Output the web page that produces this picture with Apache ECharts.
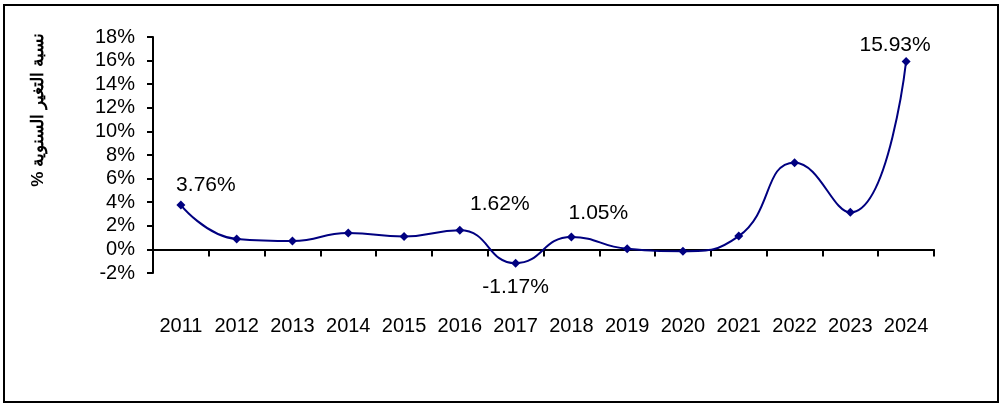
<!DOCTYPE html>
<html>
<head>
<meta charset="utf-8">
<script src="https://cdn.jsdelivr.net/npm/echarts@6/dist/echarts.min.js"></script>
<style>
  html, body { margin: 0; padding: 0; background: #fff; }
  #chart { width: 1001px; height: 404px; }
</style>
</head>
<body>
<div id="chart"></div>
<script>
// years on the x axis
var years = ['2011', '2012', '2013', '2014', '2015', '2016', '2017', '2018', '2019', '2020', '2021', '2022', '2023', '2024'];
// annual change rate in %
var changeRate = [3.76, 0.88, 0.71, 1.40, 1.10, 1.62, -1.17, 1.05, 0.05, -0.15, 1.13, 7.35, 3.14, 15.93];
// years that carry a value label
var labelledYears = ['2011', '2016', '2017', '2018', '2024'];
var yTicks = { min: -2, max: 18, step: 2 };
var yName = 'نسبة التغير السنوية %';

// label offsets from the point (px)
var labelOffsets = {
    '2011': [25, -20],
    '2016': [40, -26],
    '2017': [0, 24],
    '2018': [27, -24],
    '2024': [-11, -16]
};

var font = 'Liberation Sans, Arial, sans-serif';
var seriesData = changeRate.map(function (v, i) {
    var y = years[i];
    if (labelledYears.indexOf(y) < 0) return v;
    return {
        value: v,
        label: {
            show: true,
            position: 'inside',
            offset: labelOffsets[y],
            formatter: v.toFixed(2) + '%',
            color: '#000',
            fontSize: 21,
            fontFamily: font
        }
    };
});

var myChart = echarts.init(document.getElementById('chart'));
var option = {
    animation: false,
    backgroundColor: '#fff',
    grid: { left: 153, right: 67, top: 37, bottom: 131 },
    xAxis: {
        type: 'category',
        data: years,
        boundaryGap: true,
        axisLine: { onZero: true, lineStyle: { color: '#000', width: 2 } },
        axisTick: { show: true, interval: 0, length: 7, lineStyle: { color: '#000', width: 2 } },
        axisLabel: { interval: 0, hideOverlap: false, margin: 43, color: '#000', fontSize: 20, fontFamily: font },
        splitLine: { show: false }
    },
    yAxis: {
        type: 'value',
        min: yTicks.min,
        max: yTicks.max,
        interval: yTicks.step,
        axisLine: { show: true, lineStyle: { color: '#000', width: 2 } },
        axisTick: { show: true, length: 6, lineStyle: { color: '#000', width: 2 } },
        axisLabel: { formatter: '{value}%', margin: 18, color: '#000', fontSize: 20, fontFamily: font },
        splitLine: { show: false }
    },
    series: [{
        type: 'line',
        data: seriesData,
        smooth: 0.5,
        symbol: 'diamond',
        symbolSize: 9,
        itemStyle: { color: '#000080' },
        lineStyle: { color: '#000080', width: 2 }
    }],
    graphic: [
        {
            type: 'rect',
            shape: { x: 4, y: 5, width: 994, height: 397 },
            style: { fill: 'none', stroke: '#000', lineWidth: 2 }
        },
        {
            type: 'text',
            x: 38,
            y: 110,
            rotation: Math.PI / 2,
            style: {
                // RLM keeps the % at the end of the right-to-left run
                text: yName + '\u200F',
                fill: '#000',
                font: 'bold 17px ' + font,
                textAlign: 'center',
                textVerticalAlign: 'middle'
            }
        }
    ]
};
myChart.setOption(option);
</script>
</body>
</html>
